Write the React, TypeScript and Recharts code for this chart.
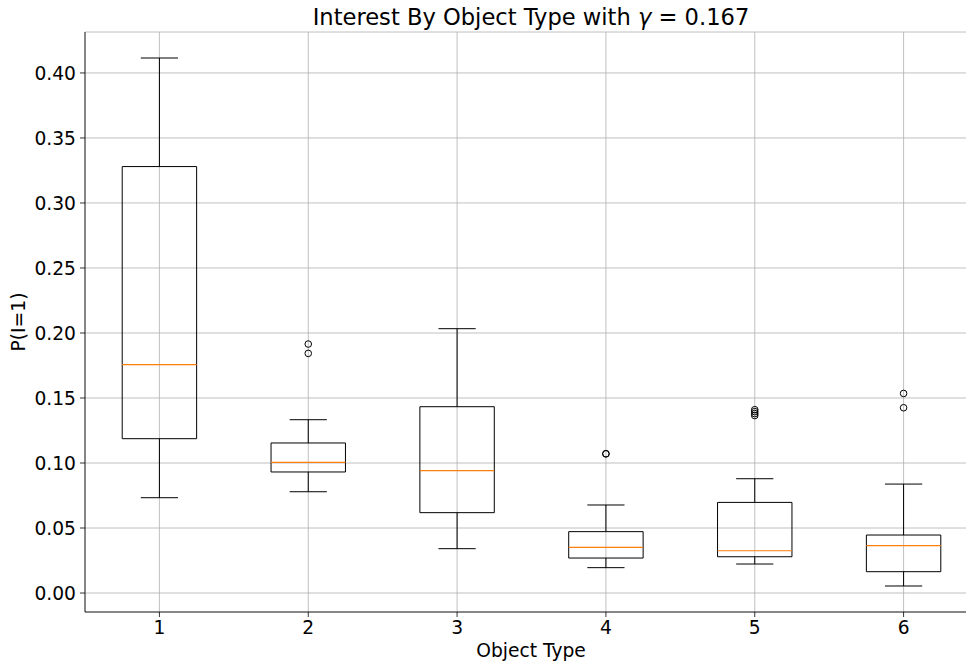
import React from 'react';
import {
  ComposedChart,
  XAxis,
  YAxis,
  CartesianGrid,
  ReferenceArea,
  ReferenceLine,
  Scatter,
} from 'recharts';

const categories = [1, 2, 3, 4, 5, 6];
const whiskerLow = [0.0733, 0.0779, 0.0341, 0.0195, 0.0223, 0.0054];
const q1 = [0.1187, 0.0931, 0.0618, 0.0269, 0.0279, 0.0164];
const median = [0.1756, 0.1005, 0.0941, 0.0351, 0.0325, 0.0364];
const q3 = [0.328, 0.1154, 0.1433, 0.0472, 0.0697, 0.0446];
const whiskerHigh = [0.4115, 0.1333, 0.2033, 0.0677, 0.0879, 0.0838];
const outliers: number[][] = [
  [],
  [0.1915, 0.1843],
  [],
  [0.1072, 0.107],
  [0.141, 0.1395, 0.138, 0.1365],
  [0.1535, 0.1425],
];
const yTicks = [0, 0.05, 0.1, 0.15, 0.2, 0.25, 0.3, 0.35, 0.4];
const yTickLabels = ['0.00', '0.05', '0.10', '0.15', '0.20', '0.25', '0.30', '0.35', '0.40'];

const X_DOMAIN: [number, number] = [0.5, 6.5];
const Y_DOMAIN: [number, number] = [-0.0146, 0.4315];
const BOX_HALF = 0.25;
const CAP_HALF = 0.125;
const FONT = '"DejaVu Sans", sans-serif';

const outlierPoints = categories.flatMap((c, i) => outliers[i].map((v) => ({ x: c, y: v })));

const Circle = (props: any) => {
  const { cx, cy } = props;
  if (cx == null || cy == null) return null;
  return <circle cx={cx} cy={cy} r={3.3} fill="none" stroke="#000" strokeWidth={1} />;
};

export default function App() {
  const yFmt = (v: number) => {
    const idx = yTicks.findIndex((t) => Math.abs(t - v) < 1e-9);
    return idx >= 0 ? yTickLabels[idx] : v.toFixed(2);
  };
  return (
    <div style={{ position: 'absolute', left: 0, top: 0, width: 966, height: 666, overflow: 'hidden', background: '#fff' }}>
      <ComposedChart
        width={990}
        height={666}
        margin={{ top: 32, right: 12, bottom: 0, left: 0 }}
        style={{ fontFamily: FONT }}
      >
        <CartesianGrid stroke="#b0b0b0" strokeWidth={0.8} />
        <XAxis
          dataKey="x"
          type="number"
          domain={X_DOMAIN}
          ticks={categories}
          allowDataOverflow
          height={54}
          tickSize={5}
          tickMargin={4}
          stroke="#000"
          tick={{ fill: '#000', fontSize: 18.67, fontFamily: FONT }}
          axisLine={{ stroke: '#000', strokeWidth: 0.8 }}
          tickLine={{ stroke: '#000', strokeWidth: 0.8 }}
        />
        <XAxis
          xAxisId="top"
          orientation="top"
          type="number"
          domain={X_DOMAIN}
          allowDataOverflow
          height={0}
          tick={false}
          tickLine={false}
          axisLine={{ stroke: '#000', strokeWidth: 0.8 }}
        />
        <YAxis
          type="number"
          domain={Y_DOMAIN}
          ticks={yTicks}
          allowDataOverflow
          width={85}
          tickSize={5}
          tickMargin={4}
          tickFormatter={yFmt}
          tick={{ fill: '#000', fontSize: 18.67, fontFamily: FONT }}
          axisLine={{ stroke: '#000', strokeWidth: 0.8 }}
          tickLine={{ stroke: '#000', strokeWidth: 0.8 }}
        />
        {categories.map((c, i) => (
          <ReferenceArea
            key={`box-${c}`}
            x1={c - BOX_HALF}
            x2={c + BOX_HALF}
            y1={q1[i]}
            y2={q3[i]}
            fill="none"
            fillOpacity={0}
            stroke="#000"
            strokeWidth={1}
            strokeOpacity={1}
          />
        ))}
        {categories.map((c, i) => (
          <ReferenceLine
            key={`wl-${c}`}
            segment={[{ x: c, y: whiskerLow[i] }, { x: c, y: q1[i] }]}
            stroke="#000"
            strokeWidth={1}
          />
        ))}
        {categories.map((c, i) => (
          <ReferenceLine
            key={`wh-${c}`}
            segment={[{ x: c, y: q3[i] }, { x: c, y: whiskerHigh[i] }]}
            stroke="#000"
            strokeWidth={1}
          />
        ))}
        {categories.map((c, i) => (
          <ReferenceLine
            key={`cl-${c}`}
            segment={[{ x: c - CAP_HALF, y: whiskerLow[i] }, { x: c + CAP_HALF, y: whiskerLow[i] }]}
            stroke="#000"
            strokeWidth={1}
          />
        ))}
        {categories.map((c, i) => (
          <ReferenceLine
            key={`ch-${c}`}
            segment={[{ x: c - CAP_HALF, y: whiskerHigh[i] }, { x: c + CAP_HALF, y: whiskerHigh[i] }]}
            stroke="#000"
            strokeWidth={1}
          />
        ))}
        {categories.map((c, i) => (
          <ReferenceLine
            key={`med-${c}`}
            segment={[{ x: c - BOX_HALF, y: median[i] }, { x: c + BOX_HALF, y: median[i] }]}
            stroke="#ff7f0e"
            strokeWidth={1.2}
          />
        ))}
        <Scatter data={outlierPoints} dataKey="y" shape={<Circle />} isAnimationActive={false} />
      </ComposedChart>
      <svg
        width={966}
        height={666}
        style={{ position: 'absolute', left: 0, top: 0, pointerEvents: 'none', fontFamily: FONT }}
      >
        <text x={531} y={25} textAnchor="middle" fontSize={22.6} fill="#000">
          Interest By Object Type with <tspan fontStyle="italic">γ</tspan> = 0.167
        </text>
        <text x={531} y={657} textAnchor="middle" fontSize={18.67} fill="#000">
          Object Type
        </text>
        <text
          x={25}
          y={322}
          textAnchor="middle"
          fontSize={18.67}
          fill="#000"
          transform="rotate(-90, 25, 322)"
        >
          P(I=1)
        </text>
      </svg>
    </div>
  );
}
